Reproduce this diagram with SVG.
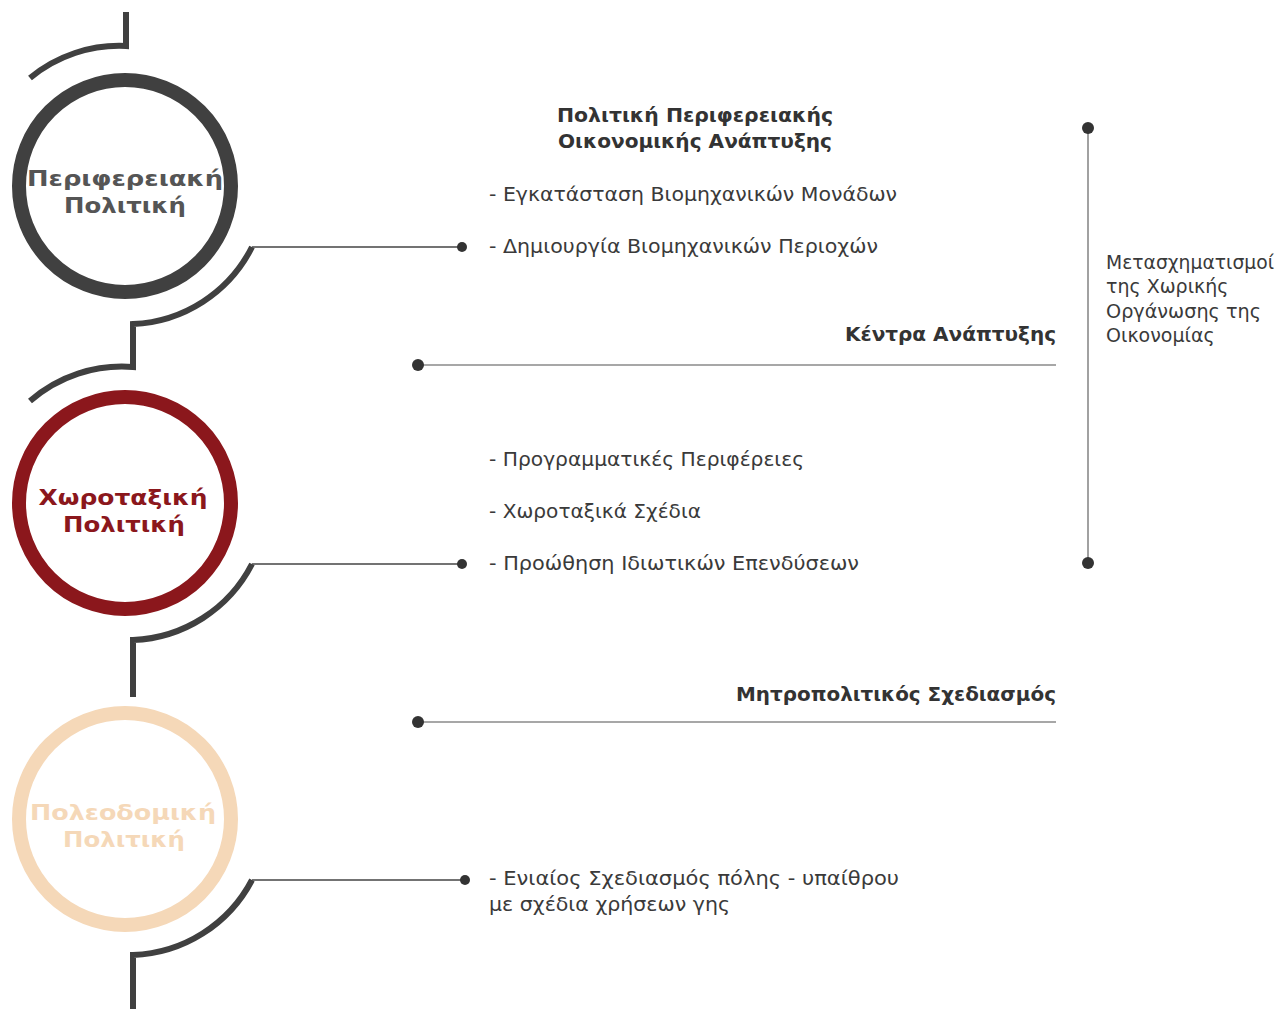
<svg xmlns="http://www.w3.org/2000/svg" width="1277" height="1009" viewBox="0 0 1277 1009">
<style>
.ring{fill:none;stroke-width:14}
.track{fill:none;stroke:#404040;stroke-width:6;stroke-linejoin:miter}
.thin{stroke:#444;stroke-width:1.3}
.long{stroke:#8a8a8a;stroke-width:1.6}
.dot{fill:#333}
.lbl{font-family:"DejaVu Sans",Verdana,sans-serif;font-weight:bold;font-size:21px;text-anchor:middle}
.head{font-family:"DejaVu Sans",Verdana,sans-serif;font-weight:bold;font-size:19.5px;fill:#333}
.item{font-family:"DejaVu Sans",Verdana,sans-serif;font-size:19.5px;fill:#3a3a3a}
.side{font-family:"DejaVu Sans",Verdana,sans-serif;font-size:19px;fill:#3a3a3a}
</style>
<rect width="1277" height="1009" fill="#fff"/>
<g id="node-perifereiaki">
<circle class="ring" cx="125" cy="186" r="106" stroke="#404040"/>
<text class="lbl" fill="#555" x="125" y="186" textLength="196" lengthAdjust="spacingAndGlyphs">Περιφερειακή</text>
<text class="lbl" fill="#555" x="125" y="213" textLength="122" lengthAdjust="spacingAndGlyphs">Πολιτική</text>
</g>
<g id="node-chorotaxiki">
<circle class="ring" cx="125" cy="503" r="106" stroke="#8b171c"/>
<text class="lbl" fill="#8b171c" x="123" y="505" textLength="169" lengthAdjust="spacingAndGlyphs">Χωροταξική</text>
<text class="lbl" fill="#8b171c" x="124" y="532" textLength="122" lengthAdjust="spacingAndGlyphs">Πολιτική</text>
</g>
<g id="node-poleodomiki">
<circle class="ring" cx="125" cy="819" r="106" stroke="#f5d8b8"/>
<text class="lbl" fill="#f5d8b8" x="123" y="820" textLength="186" lengthAdjust="spacingAndGlyphs">Πολεοδομική</text>
<text class="lbl" fill="#f5d8b8" x="124" y="847" textLength="122" lengthAdjust="spacingAndGlyphs">Πολιτική</text>
</g>
<g id="connectors">
<path class="track" d="M126 12 V46 A140 140 0 0 0 30 78"/>
<path class="track" d="M252 247 A140 140 0 0 1 133 324 V367 A140 140 0 0 0 30 401"/>
<path class="track" d="M252 564 A140 140 0 0 1 133 640 V697"/>
<path class="track" d="M252 880 A140 140 0 0 1 133 955 V1009"/>
<line class="thin" x1="252" y1="247" x2="462" y2="247"/>
<circle class="dot" cx="462" cy="247" r="5"/>
<line class="thin" x1="252" y1="564" x2="462" y2="564"/>
<circle class="dot" cx="462" cy="564" r="5"/>
<line class="thin" x1="252" y1="880" x2="465" y2="880"/>
<circle class="dot" cx="465" cy="880" r="5"/>
<line class="long" x1="418" y1="365" x2="1056" y2="365"/>
<circle class="dot" cx="418" cy="365" r="6"/>
<line class="long" x1="418" y1="722" x2="1056" y2="722"/>
<circle class="dot" cx="418" cy="722" r="6"/>
<line class="long" x1="1088" y1="128" x2="1088" y2="563"/>
<circle class="dot" cx="1088" cy="128" r="6"/>
<circle class="dot" cx="1088" cy="563" r="6"/>
</g>
<g id="texts">
<text class="head" x="557" y="122" textLength="276" lengthAdjust="spacingAndGlyphs">Πολιτική Περιφερειακής</text>
<text class="head" x="558" y="148" textLength="274" lengthAdjust="spacingAndGlyphs">Οικονομικής Ανάπτυξης</text>
<text class="item" x="489" y="201" textLength="408" lengthAdjust="spacingAndGlyphs">- Εγκατάσταση Βιομηχανικών Μονάδων</text>
<text class="item" x="489" y="253" textLength="389" lengthAdjust="spacingAndGlyphs">- Δημιουργία Βιομηχανικών Περιοχών</text>
<text class="head" x="845" y="341" textLength="211" lengthAdjust="spacingAndGlyphs">Κέντρα Ανάπτυξης</text>
<text class="item" x="489" y="466" textLength="315" lengthAdjust="spacingAndGlyphs">- Προγραμματικές Περιφέρειες</text>
<text class="item" x="489" y="518" textLength="212" lengthAdjust="spacingAndGlyphs">- Χωροταξικά Σχέδια</text>
<text class="item" x="489" y="570" textLength="370" lengthAdjust="spacingAndGlyphs">- Προώθηση Ιδιωτικών Επενδύσεων</text>
<text class="head" x="736" y="701" textLength="320" lengthAdjust="spacingAndGlyphs">Μητροπολιτικός Σχεδιασμός</text>
<text class="item" x="489" y="885" textLength="410" lengthAdjust="spacingAndGlyphs">- Ενιαίος Σχεδιασμός πόλης - υπαίθρου</text>
<text class="item" x="489" y="911" textLength="241" lengthAdjust="spacingAndGlyphs">με σχέδια χρήσεων γης</text>
<text class="side" x="1106" y="269" textLength="168" lengthAdjust="spacingAndGlyphs">Μετασχηματισμοί</text>
<text class="side" x="1106" y="293">της Χωρικής</text>
<text class="side" x="1106" y="318" textLength="155" lengthAdjust="spacingAndGlyphs">Οργάνωσης της</text>
<text class="side" x="1106" y="342">Οικονομίας</text>
</g>
</svg>
